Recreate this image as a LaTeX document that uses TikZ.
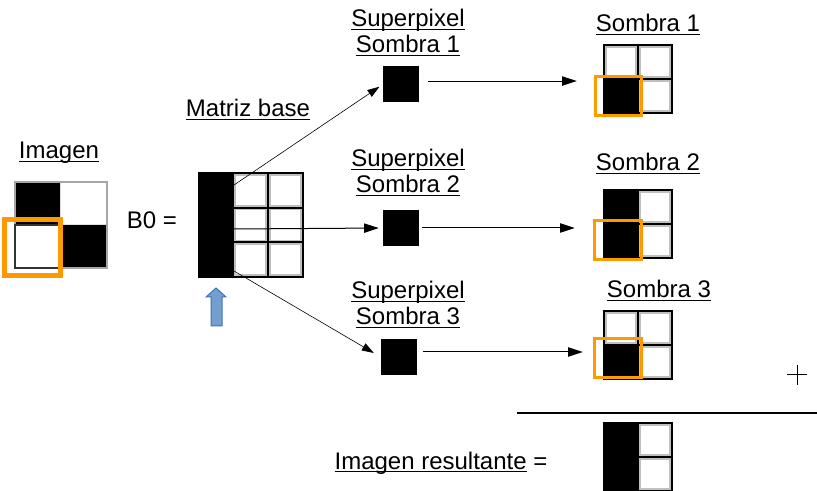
\documentclass[tikz,border=0pt]{standalone}
\usepackage{fontspec}
\setmainfont{Liberation Sans}
\usetikzlibrary{arrows.meta,positioning}

\definecolor{selorange}{RGB}{255,153,0}
\definecolor{upblue}{RGB}{114,159,207}
\definecolor{upedge}{RGB}{69,114,176}
\newcommand{\ulbox}[1]{\setbox0=\hbox{#1}\rlap{\rule[-2.4pt]{\wd0}{0.9pt}}\box0\relax}

\begin{document}
\begin{tikzpicture}[x=0.75pt,y=-0.75pt,
    font=\fontsize{18}{19.5}\selectfont,
    lbl/.style={anchor=base,inner sep=0pt},
    pix/.style={fill=black,minimum width=27pt,minimum height=27pt,inner sep=0pt},
    box/.style={minimum size=51pt,inner sep=0pt},
    halo/.style={draw=gray!50,line width=3.8pt},
    cellline/.style={draw=black,line width=1.5pt},
    sel/.style={draw=selorange,line width=2pt},
    conn/.style={line width=0.75pt,-{Triangle[length=11pt,width=7pt]}},
    thinconn/.style={line width=0.45pt,-{Triangle[length=9pt,width=6pt]}}]
  \useasboundingbox (0,0) rectangle (817,491);

  % imagen original
  \node[lbl] (timg) at (59,159) {\ulbox{Imagen}};
  \fill[black] (15,182) rectangle (60,225) (60,225) rectangle (107,268);
  \draw[gray!70,line width=1.5pt] (15,182) rectangle (107,268);
  \draw[gray!40!black,line width=1.2pt] (15,225) rectangle (60,268);
  \draw[selorange,line width=3.75pt] (4.5,219.5) rectangle (60.5,275.5);

  % matriz base
  \node[lbl] (b0) at (152,229) {B0 =};
  \node[lbl] (tmb) at (248,117) {\ulbox{Matriz base}};
  \node[box,minimum size=78pt] (mb) at (251,225) {};
  \begin{scope}
    \clip (199,173) rectangle (303,277);
    \foreach \c in {0,1} \foreach \r in {0,1,2}
      \draw[halo] (233+35*\c,173+34.67*\r) rectangle ++(35,34.67);
  \end{scope}
  \fill[black] (199,173) rectangle (233,277);
  \foreach \c in {0,1} \foreach \r in {0,1,2}
    \draw[cellline] (233+35*\c,173+34.67*\r) rectangle ++(35,34.67);
  \draw[cellline] (199,173) rectangle (303,277);
  \draw[fill=upblue,draw=upedge,line width=0.75pt] (211,326) -- (211,297) -- (206,297)
    -- (216,288) -- (226,297) -- (222,297) -- (222,326) -- cycle;

  \coordinate (m1) at (234,185);
  \coordinate (m2) at (234,229);
  \coordinate (m3) at (234,271);

  % superpixeles
  \node[pix] (sp1) at (401,84.5) {};
  \node[pix] (sp2) at (401,228) {};
  \node[pix] (sp3) at (399,357) {};
  \node[lbl,align=center] (tsp1) at (408,53) {\ulbox{Superpixel}\\\ulbox{Sombra 1}};
  \node[lbl,align=center] (tsp2) at (408,193) {\ulbox{Superpixel}\\\ulbox{Sombra 2}};
  \node[lbl,align=center] (tsp3) at (408,325) {\ulbox{Superpixel}\\\ulbox{Sombra 3}};

  \draw[thinconn,shorten >=3pt] (m1) -- (sp1.west);
  \draw[conn,shorten >=3pt] (m2) -- (sp2.west);
  \draw[thinconn,shorten >=6pt] (m3) -- (sp3.west);

  % sombras y resultado
  \node[lbl] (ts1) at (648,32) {\ulbox{Sombra 1}};
  \node[lbl] (ts2) at (648,171) {\ulbox{Sombra 2}};
  \node[lbl] (ts3) at (659,298) {\ulbox{Sombra 3}};
  \node[box] (s1) at (638,79) {};
  \node[box] (s2) at (638,224) {};
  \node[box] (s3) at (638,345) {};
  \node[box] (res) at (638,457) {};

  \foreach \gy in {45,190,311,423} {
    \begin{scope}
      \clip (604,\gy) rectangle ++(68,68);
      \foreach \c in {0,1} \foreach \r in {0,1}
        \draw[halo] (604+34*\c,\gy+34*\r) rectangle ++(34,34);
    \end{scope}
  }
  \fill[black] (604,79) rectangle (638,113);
  \fill[black] (604,190) rectangle (638,258);
  \fill[black] (604,345) rectangle (638,379);
  \fill[black] (604,423) rectangle (638,491);
  \foreach \gy in {45,190,311,423} \foreach \c in {0,1} \foreach \r in {0,1}
    \draw[cellline] (604+34*\c,\gy+34*\r) rectangle ++(34,34);

  \draw[sel] (595.3,76.3) rectangle (641.7,115.7);
  \draw[sel] (594.3,220.3) rectangle (641.7,259.7);
  \draw[sel] (594.3,338.3) rectangle (641.7,377.7);

  \draw[conn,shorten <=6.75pt,shorten >=20.25pt] ([yshift=2.6pt]sp1.east) -- ([yshift=2.6pt]sp1.east -| s1.west);
  \draw[conn,shorten <=2.25pt,shorten >=21.75pt] (sp2.east) -- (sp2.east -| s2.west);
  \draw[conn,shorten <=4.5pt,shorten >=15.75pt] ([yshift=3.75pt]sp3.east) -- ([yshift=3.75pt]sp3.east -| s3.west);

  \draw[line width=0.75pt] (787,375) -- (807,375) (797,365) -- (797,385);
  \draw[line width=1pt] (517,413) -- (817,413);
  \node[lbl] (tres) at (441,469) {\ulbox{Imagen resultante} =};
\end{tikzpicture}
\end{document}
